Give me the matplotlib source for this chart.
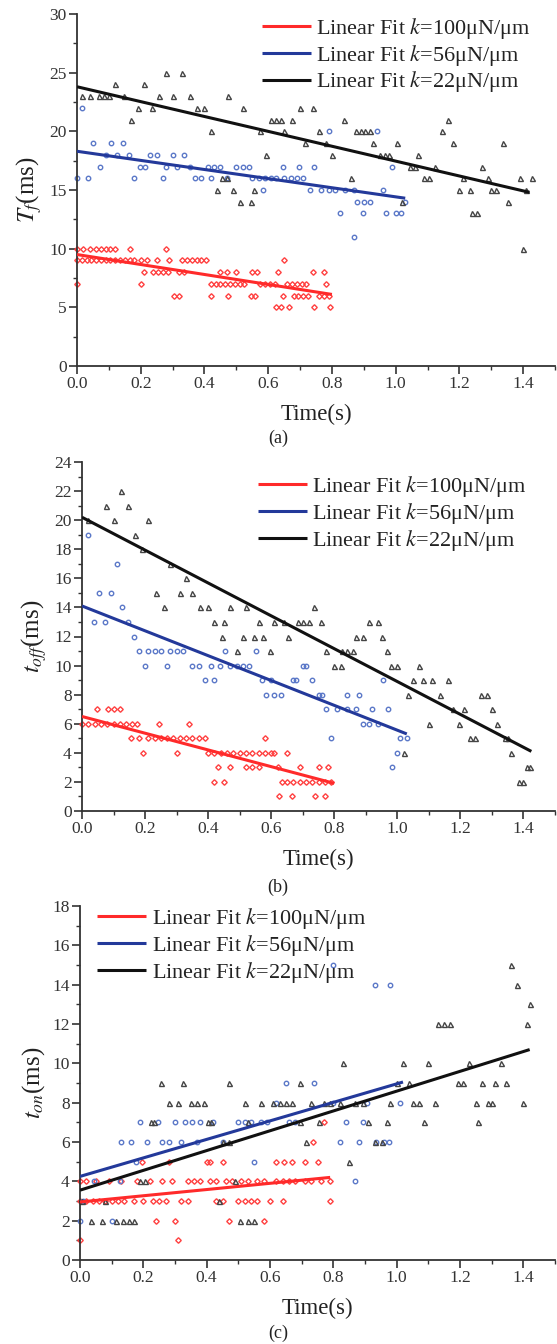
import matplotlib
matplotlib.use("Agg")
import matplotlib.pyplot as plt
from matplotlib.ticker import MultipleLocator

plt.rcParams['font.family'] = ['Liberation Serif', 'DejaVu Serif']
plt.rcParams['mathtext.fontset'] = 'stix'

# ---------------- data ----------------
# Panel (a): T_f
a_red_x = [0.0, 0.02, 0.04, 0.06, 0.075, 0.09, 0.105, 0.12, 0.165, 0.28,
           0.0, 0.015, 0.03, 0.045, 0.06, 0.075, 0.09, 0.105, 0.12, 0.135, 0.15, 0.165, 0.18, 0.2, 0.22, 0.25, 0.29,
           0.33, 0.345, 0.36, 0.375, 0.39, 0.405, 0.65,
           0.21, 0.24, 0.255, 0.27, 0.285, 0.32, 0.335, 0.45, 0.47, 0.5, 0.55, 0.565, 0.63, 0.74, 0.775,
           0.0, 0.2, 0.42, 0.435, 0.45, 0.465, 0.48, 0.495, 0.51, 0.525, 0.575, 0.59, 0.605, 0.62, 0.66, 0.675,
           0.69, 0.705, 0.72, 0.78,
           0.305, 0.32, 0.42, 0.475, 0.545, 0.56, 0.645, 0.68, 0.695, 0.71, 0.725, 0.76, 0.775, 0.79,
           0.625, 0.64, 0.665, 0.745, 0.795]
a_red_y = [10] * 10 + [9] * 24 + [8] * 15 + [7] * 20 + [6] * 14 + [5] * 5

a_blue_x = [0.0, 0.017, 0.036, 0.05, 0.073, 0.09, 0.107, 0.124, 0.144, 0.163, 0.18, 0.197, 0.213, 0.23, 0.25,
            0.27, 0.28, 0.30, 0.315, 0.335, 0.354, 0.37, 0.39, 0.41, 0.43, 0.45, 0.42, 0.47, 0.50, 0.52, 0.54,
            0.55, 0.57, 0.59, 0.61, 0.584, 0.625, 0.65, 0.67, 0.69, 0.646, 0.697, 0.71, 0.73, 0.744, 0.765,
            0.79, 0.81, 0.79, 0.826, 0.84, 0.87, 0.87, 0.88, 0.90, 0.92, 0.897, 0.94, 0.96, 0.97, 0.987, 1.0,
            1.016, 1.028]
a_blue_y = [16, 22, 16, 19, 17, 18, 19, 18, 19, 18, 16, 17, 17, 18, 18,
            16, 17, 18, 17, 18, 17, 16, 16, 17, 17, 17, 16, 16, 17, 17, 17,
            16, 16, 16, 16, 15, 16, 16, 16, 16, 17, 17, 16, 15, 17, 15,
            15, 15, 20, 13, 15, 15, 11, 14, 14, 14, 13, 20, 15, 13, 17, 13,
            13, 14]

a_black_x = [0.017, 0.04, 0.07, 0.085, 0.10, 0.12, 0.146, 0.168, 0.19, 0.21, 0.234, 0.256, 0.28, 0.30, 0.33,
             0.354, 0.376, 0.40, 0.42, 0.44, 0.49, 0.455, 0.47, 0.474, 0.51, 0.545, 0.52, 0.556, 0.573, 0.593,
             0.61, 0.625, 0.64, 0.65, 0.674, 0.70, 0.74, 0.717, 0.76, 0.78, 0.80, 0.837, 0.86, 0.875, 0.89,
             0.905, 0.92, 0.93, 0.95, 0.965, 0.98, 1.005, 1.02, 1.045, 1.06, 1.07, 1.09, 1.105, 1.124, 1.144,
             1.163, 1.18, 1.20, 1.234, 1.21, 1.24, 1.255, 1.27, 1.29, 1.30, 1.315, 1.337, 1.354, 1.39, 1.40,
             1.427, 1.41]
a_black_y = [23, 23, 23, 23, 23, 24, 23, 21, 22, 24, 22, 23, 25, 23, 25,
             23, 22, 22, 20, 15, 15, 16, 16, 23, 14, 14, 22, 15, 20, 18,
             21, 21, 21, 20, 21, 22, 22, 19, 20, 19, 18, 21, 16, 20, 20,
             20, 20, 19, 18, 18, 18, 19, 14, 17, 17, 18, 16, 16, 17, 20,
             21, 19, 15, 15, 16, 13, 13, 17, 16, 15, 15, 19, 14, 16, 10,
             16, 15]

# Panel (b): t_off
b_red_x = [0.048, 0.082, 0.10, 0.12,
           0.0, 0.02, 0.04, 0.06, 0.08, 0.10, 0.12, 0.14, 0.16, 0.175, 0.245, 0.34,
           0.155, 0.18, 0.21, 0.23, 0.25, 0.27, 0.29, 0.31, 0.33, 0.35, 0.37, 0.39, 0.58,
           0.195, 0.30, 0.40, 0.42, 0.44, 0.46, 0.48, 0.50, 0.52, 0.54, 0.56, 0.58, 0.60, 0.61, 0.65,
           0.43, 0.47, 0.52, 0.54, 0.56, 0.62, 0.69, 0.75, 0.78,
           0.42, 0.45, 0.635, 0.65, 0.67, 0.69, 0.71, 0.73, 0.75, 0.77, 0.79,
           0.625, 0.665, 0.74, 0.77]
b_red_y = [7] * 4 + [6] * 12 + [5] * 13 + [4] * 15 + [3] * 9 + [2] * 11 + [1] * 4

b_blue_x = [0.018, 0.037, 0.054, 0.074, 0.093, 0.11, 0.127, 0.146, 0.164,
            0.18, 0.21, 0.23, 0.25, 0.28, 0.30, 0.32, 0.20, 0.27, 0.35, 0.37, 0.39, 0.41, 0.42, 0.437, 0.454,
            0.47, 0.49, 0.51, 0.53, 0.552, 0.57, 0.60, 0.583, 0.61, 0.63, 0.67, 0.68, 0.70, 0.71, 0.73,
            0.75, 0.76, 0.775, 0.79, 0.81, 0.84, 0.87, 0.84, 0.88, 0.89, 0.91, 0.92, 0.94, 0.955, 0.97,
            0.983, 1.0, 1.01, 1.03]
b_blue_y = [19, 13, 15, 13, 15, 17, 14, 13, 12,
            11, 11, 11, 11, 11, 11, 11, 10, 10, 10, 10, 9, 10, 9, 10, 11,
            10, 10, 10, 10, 11, 9, 9, 8, 8, 8, 9, 9, 10, 10, 9,
            8, 8, 7, 5, 7, 7, 7, 8, 8, 6, 6, 7, 6, 9, 7,
            3, 4, 5, 5]

b_black_x = [0.02, 0.077, 0.10, 0.124, 0.146, 0.167, 0.19, 0.21, 0.236, 0.26, 0.28, 0.31, 0.33, 0.35, 0.375,
             0.40, 0.42, 0.45, 0.443, 0.47, 0.493, 0.51, 0.52, 0.544, 0.574, 0.56, 0.595, 0.61, 0.64, 0.653,
             0.685, 0.70, 0.72, 0.735, 0.757, 0.775, 0.80, 0.82, 0.825, 0.84, 0.86, 0.87, 0.89, 0.91, 0.94,
             0.95, 0.966, 0.98, 1.0, 1.02, 1.034, 1.05, 1.08, 1.11, 1.16, 1.068, 1.10, 1.135, 1.175, 1.197,
             1.21, 1.23, 1.245, 1.265, 1.285, 1.30, 1.315, 1.34, 1.35, 1.36, 1.385, 1.40, 1.41, 1.42]
b_black_y = [20, 21, 20, 22, 21, 19, 18, 20, 15, 14, 17, 15, 16, 15, 14,
             14, 13, 13, 12, 14, 11, 12, 14, 12, 12, 13, 11, 13, 13, 12,
             13, 13, 13, 14, 13, 11, 10, 10, 11, 11, 11, 12, 12, 13, 13,
             12, 11, 10, 10, 4, 8, 9, 9, 9, 9, 10, 6, 8, 7, 6,
             7, 5, 5, 8, 8, 7, 6, 5, 5, 4, 2, 2, 3, 3]

# Panel (c): t_on
c_red_x = [0.0, 0.31,
           0.24, 0.30, 0.47, 0.58,
           0.0, 0.02, 0.04, 0.06, 0.08, 0.10, 0.12, 0.14, 0.17, 0.2, 0.23, 0.25, 0.27, 0.32, 0.34, 0.43,
           0.45, 0.50, 0.52, 0.54, 0.56, 0.60, 0.64, 0.79,
           0.0, 0.02, 0.05, 0.09, 0.13, 0.18, 0.22, 0.26, 0.29, 0.34, 0.36, 0.38, 0.41, 0.43, 0.46, 0.48,
           0.51, 0.53, 0.56, 0.58, 0.62, 0.64, 0.66, 0.68, 0.71, 0.73, 0.76, 0.79,
           0.195, 0.28, 0.40, 0.41, 0.45, 0.62, 0.645, 0.67, 0.71, 0.75,
           0.735, 0.77]
c_red_y = [1] * 2 + [2] * 4 + [3] * 24 + [4] * 28 + [5] * 10 + [6] + [7]

c_blue_x = [0.0, 0.10, 0.01, 0.043, 0.127, 0.87, 0.177, 0.55,
            0.13, 0.16, 0.21, 0.26, 0.28, 0.32, 0.37, 0.45, 0.82, 0.88, 0.935, 0.96, 0.975,
            0.19, 0.245, 0.30, 0.33, 0.355, 0.38, 0.42, 0.50, 0.52, 0.54, 0.57, 0.59, 0.66, 0.68, 0.84, 0.895,
            0.62, 0.80, 0.905, 1.01, 0.65, 0.74, 0.93, 0.98, 0.80]
c_blue_y = [2, 2, 3, 4, 4, 4, 5, 5,
            6, 6, 6, 6, 6, 6, 6, 6, 6, 6, 6, 6, 6,
            7, 7, 7, 7, 7, 7, 7, 7, 7, 7, 7, 7, 7, 7, 7, 7,
            8, 8, 8, 8, 9, 9, 14, 14, 15]

c_black_x = [0.035, 0.07, 0.115, 0.135, 0.155, 0.17, 0.505, 0.53, 0.55,
             0.005, 0.08, 0.44, 0.19, 0.205, 0.49, 0.85,
             0.45, 0.47, 0.715, 0.93, 0.955,
             0.225, 0.235, 0.405, 0.415, 0.53, 0.695, 0.755, 0.91, 0.97, 1.085, 1.257,
             0.28, 0.31, 0.35, 0.37, 0.39, 0.52, 0.57, 0.61, 0.63, 0.65, 0.67, 0.73, 0.77, 0.79, 0.82, 0.87,
             0.895, 0.98, 1.05, 1.07, 1.12, 1.25, 1.29, 1.30, 1.40,
             0.255, 0.325, 0.47, 0.695, 1.00, 1.04, 1.195, 1.21, 1.27, 1.31, 1.345,
             0.83, 1.02, 1.10, 1.23, 1.33,
             1.13, 1.15, 1.17, 1.41, 1.42, 1.38, 1.36]
c_black_y = [2] * 9 + [3] * 3 + [4] * 3 + [5] + [6] * 5 + [7] * 11 + [8] * 25 + [9] * 11 + [10] * 5 + \
            [12] * 4 + [13, 14, 15]

# Linear fits: value at t=0, value at end, end time
fit_labels = ['Linear Fit $k$=100μN/μm', 'Linear Fit $k$=56μN/μm', 'Linear Fit $k$=22μN/μm']
a_fit_y0 = [9.5, 18.3, 23.8]
a_fit_y1 = [6.1, 14.3, 14.8]
a_fit_t1 = [0.80, 1.03, 1.42]
b_fit_y0 = [6.5, 14.1, 20.2]
b_fit_y1 = [1.9, 5.3, 4.1]
b_fit_t1 = [0.80, 1.03, 1.425]
c_fit_y0 = [2.95, 4.25, 3.55]
c_fit_y1 = [4.2, 9.05, 10.7]
c_fit_t1 = [0.79, 1.02, 1.42]

ylabels = [r'$T_f$(ms)', r'$t_{off}$(ms)', r'$t_{on}$(ms)']
captions = ['(a)', '(b)', '(c)']
xlabel = 'Time(s)'

# ---------------- style ----------------
line_colors = ['#ff2a2a', '#23399a', '#111111']
mark_colors = ['#ff4040', '#5b78c8', '#444444']
markers = ['D', 'o', '^']
msizes = [2.8, 3.2, 3.6]

W, H = 557, 1344
fig = plt.figure(figsize=(W / 100, H / 100), dpi=100)

panels = [
    dict(sc=[(a_red_x, a_red_y), (a_blue_x, a_blue_y), (a_black_x, a_black_y)],
         fit=(a_fit_y0, a_fit_y1, a_fit_t1), ylim=(0, 30), major=5, minor=2.5,
         box=(77, 14, 366), leg=(0.387, 0.995)),
    dict(sc=[(b_red_x, b_red_y), (b_blue_x, b_blue_y), (b_black_x, b_black_y)],
         fit=(b_fit_y0, b_fit_y1, b_fit_t1), ylim=(0, 24), major=2, minor=1,
         box=(82, 462, 811), leg=(0.372, 0.965)),
    dict(sc=[(c_red_x, c_red_y), (c_blue_x, c_blue_y), (c_black_x, c_black_y)],
         fit=(c_fit_y0, c_fit_y1, c_fit_t1), ylim=(0, 18), major=2, minor=1,
         box=(80, 906, 1260), leg=(0.036, 1.0)),
]
caption_y = [438, 887, 1333]

for i, p in enumerate(panels):
    left, top, bottom = p['box']
    ax = fig.add_axes([left / W, 1 - bottom / H, (555 - left) / W, (bottom - top) / H])
    for j, (xs, ys) in enumerate(p['sc']):
        ax.plot(xs, ys, linestyle='none', marker=markers[j], ms=msizes[j],
                mfc='none', mec=mark_colors[j], mew=1.0, clip_on=False, zorder=2)
    y0s, y1s, t1s = p['fit']
    for j in range(3):
        ax.plot([0, t1s[j]], [y0s[j], y1s[j]], color=line_colors[j], lw=2.2,
                label=fit_labels[j], zorder=3, solid_capstyle='butt')
    ax.set_xlim(0, 1.5)
    ax.set_ylim(*p['ylim'])
    ax.xaxis.set_major_locator(MultipleLocator(0.2))
    ax.xaxis.set_minor_locator(MultipleLocator(0.1))
    ax.yaxis.set_major_locator(MultipleLocator(p['major']))
    ax.yaxis.set_minor_locator(MultipleLocator(p['minor']))
    ax.xaxis.set_major_formatter(plt.FuncFormatter(lambda v, pos: f'{v:.1f}'))
    ax.yaxis.set_major_formatter(plt.FuncFormatter(lambda v, pos: f'{v:.0f}'))
    for s in ['top', 'right']:
        ax.spines[s].set_visible(False)
    for s in ['left', 'bottom']:
        ax.spines[s].set_linewidth(1.3)
        ax.spines[s].set_color('#333333')
    ax.tick_params(which='major', direction='out', length=5.5, width=1.2, color='#333333',
                   labelsize=12.5, labelcolor='#333333', pad=2)
    ax.tick_params(which='minor', direction='out', length=3, width=1.0, color='#333333')
    ax.set_xlabel(xlabel, fontsize=16.5, labelpad=8, color='#222222')
    ax.set_ylabel(ylabels[i], fontsize=18, labelpad=4, color='#222222')
    leg = ax.legend(loc='upper left', bbox_to_anchor=p['leg'], frameon=False, fontsize=16,
                    handlelength=2.2, handletextpad=0.25, labelspacing=0.08, borderpad=0,
                    borderaxespad=0)
    for t in leg.get_texts():
        t.set_color('#222222')
    fig.text(278 / W, 1 - caption_y[i] / H, captions[i], ha='center', va='center',
             fontsize=13, color='#222222')

fig.savefig('out.png', dpi=100)
